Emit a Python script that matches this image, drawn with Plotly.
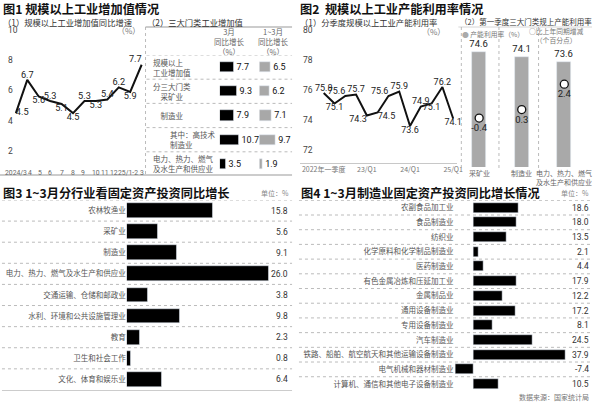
import plotly.graph_objects as go

W, H = 600, 404


def fx(p):
    return p / W


def fy(p):
    return 1 - p / H


CN = "Noto Sans CJK SC"
NUM = "Roboto, Noto Sans CJK SC"

# ---------------- data ----------------
ip_months = ["2024/3", "4", "5", "6", "7", "8", "9", "10", "11", "12", "25/1-2", "3"]
ip_growth = [4.5, 6.7, 5.6, 5.3, 5.1, 4.5, 5.3, 5.3, 5.4, 6.2, 5.9, 7.7]
ip_yticks = [2, 4, 6, 8, 10]

sec_keys = ["规模以上工业增加值", "采矿业", "制造业", "高技术制造业", "电力、热力、燃气及水生产和供应业"]
sec_labels = ["规模以上<br>工业增加值", "分三大门类<br>\u3000采矿业", "\u3000制造业",
              "其中：高技术<br>制造业", "电力、热力、燃气<br>及水生产和供应业"]
sec_march = [7.7, 9.3, 7.9, 10.7, 3.5]
sec_q1 = [6.5, 6.2, 7.1, 9.7, 1.9]

cap_quarters = ["2022年一季度", "22/Q2", "22/Q3", "22/Q4", "23/Q1", "23/Q2", "23/Q3", "23/Q4",
                "24/Q1", "24/Q2", "24/Q3", "24/Q4", "25/Q1"]
cap_rate = [75.8, 75.1, 75.6, 75.7, 74.3, 74.5, 75.6, 75.9, 73.6, 74.9, 75.1, 76.2, 74.1]
cap_ticks = ["2022年一季度", "23/Q1", "24/Q1", "25/Q1"]
cap_yticks = [72, 74, 76, 78, 80]

cap_sectors = ["采矿业", "制造业", "电力、热力、燃气<br>及水生产和供应业"]
cap_sector_rate = [74.6, 74.1, 73.6]
cap_sector_change = [-0.4, 0.3, 2.4]

inv_industries = ["农林牧渔业", "采矿业", "制造业", "电力、热力、燃气及水生产和供应业",
                  "交通运输、仓储和邮政业", "水利、环境和公共设施管理业", "教育",
                  "卫生和社会工作", "文化、体育和娱乐业"]
inv_growth = [15.8, 5.6, 9.1, 26.0, 3.8, 9.8, 2.3, 0.8, 6.4]

mfg_industries = ["农副食品加工业", "食品制造业", "纺织业", "化学原料和化学制品制造业",
                  "医药制造业", "有色金属冶炼和压延加工业", "金属制品业", "通用设备制造业",
                  "专用设备制造业", "汽车制造业", "铁路、船舶、航空航天和其他运输设备制造业",
                  "电气机械和器材制造业", "计算机、通信和其他电子设备制造业"]
mfg_growth = [18.6, 18.0, 13.5, 2.1, 4.4, 17.9, 12.2, 17.2, 8.1, 24.5, 37.9, -7.4, 10.5]

# ---------------- styles ----------------
ip_text_pos = ["middle right", "top center", "bottom center", "top center", "bottom center",
               "bottom center", "top center", "bottom center", "top center", "top center",
               "bottom center", "top left"]
ip_tick_nudge = [0, 3, 1, 0, 0, 0, -1, 0, -2, -5, -2, 0]   # px nudges of month labels
cap_text_pos = ["top center", "bottom center", "top left", "top center", "bottom left",
                "bottom right", "top left", "top center", "bottom center", "top center",
                "bottom center", "top center", "bottom center"]

fig = go.Figure()

# Panel 1 (1): line
fig.add_trace(go.Scatter(
    x=ip_months, y=ip_growth, mode="lines+text", text=[f"{v:.1f}" for v in ip_growth],
    textposition=ip_text_pos, line=dict(color="#111", width=2),
    textfont=dict(family=NUM, size=9.2, color="#222"), cliponaxis=False,
    xaxis="x", yaxis="y", hoverinfo="skip", showlegend=False))

# Panel 1 (2): table bars
fig.add_trace(go.Bar(
    x=sec_march, y=sec_keys, orientation="h", marker=dict(color="#000"), width=0.42,
    text=[f"{v:.1f}" for v in sec_march], textposition="outside", constraintext="none",
    textfont=dict(family=NUM, size=9, color="#111"), cliponaxis=False,
    xaxis="x2", yaxis="y2", hoverinfo="skip", showlegend=False))
fig.add_trace(go.Bar(
    x=sec_q1, y=sec_keys, orientation="h", marker=dict(color="#a8a8a8"), width=0.42,
    text=[f"{v:.1f}" for v in sec_q1], textposition="outside", constraintext="none",
    textfont=dict(family=NUM, size=9, color="#111"), cliponaxis=False,
    xaxis="x3", yaxis="y3", hoverinfo="skip", showlegend=False))

# Panel 2 (1): line
fig.add_trace(go.Scatter(
    x=cap_quarters, y=cap_rate, mode="lines+text", text=[f"{v:.1f}" for v in cap_rate],
    textposition=cap_text_pos, line=dict(color="#111", width=2),
    textfont=dict(family=NUM, size=9, color="#222"), cliponaxis=False,
    xaxis="x4", yaxis="y4", hoverinfo="skip", showlegend=False))

# Panel 2 (2): bars + circles
fig.add_trace(go.Bar(
    x=cap_sectors, y=cap_sector_rate, marker=dict(color="#a9a9a9"), width=0.33,
    text=[f"{v:.1f}" for v in cap_sector_rate], textposition="outside", constraintext="none",
    textfont=dict(family=NUM, size=9.5, color="#222"), cliponaxis=False,
    xaxis="x5", yaxis="y5", hoverinfo="skip", showlegend=False))
fig.add_trace(go.Scatter(
    x=cap_sectors, y=cap_sector_change, mode="markers+text",
    text=[f"{v:.1f}" for v in cap_sector_change], textposition="bottom center",
    marker=dict(symbol="circle", size=8, color="white", line=dict(color="#111", width=1.3)),
    textfont=dict(family=NUM, size=9.5, color="#222"), cliponaxis=False,
    xaxis="x5", yaxis="y6", hoverinfo="skip", showlegend=False))

# Panel 3
fig.add_trace(go.Bar(
    x=inv_growth, y=inv_industries, orientation="h", marker=dict(color="#000"), width=0.7,
    xaxis="x7", yaxis="y7", hoverinfo="skip", showlegend=False))

# Panel 4
fig.add_trace(go.Bar(
    x=mfg_growth, y=mfg_industries, orientation="h", marker=dict(color="#000"), width=0.68,
    xaxis="x8", yaxis="y8", hoverinfo="skip", showlegend=False))

hidden = dict(visible=False, showgrid=False, zeroline=False, fixedrange=True)

layout = dict(
    width=W, height=H, autosize=False,
    margin=dict(l=0, r=0, t=0, b=0),
    paper_bgcolor="white", plot_bgcolor="rgba(0,0,0,0)",
    font=dict(family=CN, color="#222"),
    bargap=0,
    # panel 1 line
    xaxis=dict(domain=[fx(5), fx(147)], type="category", categoryorder="array",
               categoryarray=ip_months, range=[-0.952, 11.34], showticklabels=False,
               ticks="", showgrid=False, zeroline=False, showline=False, anchor="y"),
    yaxis=dict(domain=[fy(166), fy(20)], range=[1.0, 10.66], tickvals=ip_yticks,
               ticklabelposition="inside", ticks="", showgrid=False, zeroline=False,
               showline=False, tickfont=dict(family=NUM, size=8.5, color="#444"), anchor="x"),
    # table
    xaxis2=dict(domain=[fx(222), fx(245)], range=[0, 12.8], anchor="y2", **hidden),
    yaxis2=dict(domain=[fy(176), fy(55)], type="category", categoryorder="array",
                categoryarray=sec_keys, range=[4.5, -0.5], anchor="x2", **hidden),
    xaxis3=dict(domain=[fx(262), fx(290)], range=[0, 17], anchor="y3", **hidden),
    yaxis3=dict(domain=[fy(176), fy(55)], type="category", categoryorder="array",
                categoryarray=sec_keys, range=[4.5, -0.5], anchor="x3", **hidden),
    # panel 2 line
    xaxis4=dict(domain=[fx(303), fx(462)], type="category", categoryorder="array",
                categoryarray=cap_quarters, range=[-2.2, 12.39], tickmode="array",
                tickvals=cap_ticks, ticks="", showgrid=False, zeroline=False,
                showline=True, linecolor="#c8c8c8", linewidth=1, tickangle=0,
                tickfont=dict(family=CN, size=7, color="#777"), anchor="y4"),
    yaxis4=dict(domain=[fy(163), fy(20)], range=[71.13, 80.67], tickvals=cap_yticks,
                ticklabelposition="inside", ticks="", showgrid=False, zeroline=False,
                showline=False, tickfont=dict(family=NUM, size=8.5, color="#444"), anchor="x4"),
    # panel 2 bars
    xaxis5=dict(domain=[fx(462.5), fx(591.5)], type="category", categoryorder="array",
                categoryarray=cap_sectors, range=[-0.5, 2.5], showticklabels=False,
                ticks="", showgrid=False, zeroline=False, showline=False, anchor="y5"),
    yaxis5=dict(domain=[fy(167), fy(30)], range=[63.1, 76.8], anchor="x5", **hidden),
    yaxis6=dict(overlaying="y5", range=[-4.45, 6.88], anchor="x5", **hidden),
    # panel 3
    xaxis7=dict(domain=[fx(128), fx(275)], range=[0, 26.7], anchor="y7", **hidden),
    yaxis7=dict(domain=[fy(391), fy(200)], type="category", categoryorder="array",
                categoryarray=inv_industries, range=[8.55, -0.5], ticks="", showgrid=False,
                zeroline=False, showline=False, fixedrange=True,
                tickfont=dict(family=CN, size=7.5, color="#555"), anchor="x7"),
    # panel 4
    xaxis8=dict(domain=[fx(459), fx(575)], range=[-7.76, 39.6], anchor="y8", **hidden),
    yaxis8=dict(domain=[fy(391), fy(200)], type="category", categoryorder="array",
                categoryarray=mfg_industries, range=[12.47, -0.52], ticks="", showgrid=False,
                zeroline=False, showline=False, fixedrange=True,
                tickfont=dict(family=CN, size=7.5, color="#555"), anchor="x8"),
)
fig.update_layout(**layout)

ann = []


def text(x, y, s, size, color="#222", xanchor="left", bold=False, family=CN, **kw):
    ann.append(dict(x=fx(x), y=fy(y), xref="paper", yref="paper", text=s, showarrow=False,
                    xanchor=xanchor, yanchor="middle",
                    font=dict(family=family, size=size, color=color,
                              weight="bold" if bold else "normal"), **kw))


# titles
text(1, 9, "图1 规模以上工业增加值情况", 12.2, "#111", bold=True)
text(1, 22, "（1）规模以上工业增加值同比增速", 8.3, "#333")
text(146, 22, "（2）三大门类工业增加值", 8.3, "#333")
text(301, 9, "图2  规模以上工业产能利用率情况", 12.2, "#111", bold=True)
text(301, 22, "（1）分季度规模以上工业产能利用率", 8.3, "#333")
text(463, 21, "（2）第一季度三大门类规上产能利用率", 7.5, "#333")
text(1, 193, "图3 1~3月分行业看固定资产投资同比增长", 12.2, "#111", bold=True)
text(302, 193, "图4 1~3月制造业固定资产投资同比增长情况", 12.2, "#111", bold=True)
text(294, 193, "单位：%", 7, "#888", xanchor="right")
text(597, 193, "单位：%", 7, "#888", xanchor="right")
text(597, 397, "数据来源：国家统计局", 7, "#777", xanchor="right")
text(130, 31, "（%）", 8, "#777", xanchor="center")
text(438, 32, "（%）", 8, "#777", xanchor="center")

# table headers
text(232, 42, "3月<br>同比增长<br>（%）", 7.5, "#666", xanchor="center")
text(276, 42, "1~3月<br>同比增长<br>（%）", 7.5, "#666", xanchor="center")

# legend panel 2(2)
text(465, 34, "<span style='color:#aaaaaa'>●</span> 产能利用率（%）", 6.8, "#777")
text(562, 36, "○比上年同期增减<br>（个百分点）", 6.8, "#777", xanchor="center")

# panel 1 month labels, positioned through the category axis (by category index)
for i, (m, dx) in enumerate(zip(ip_months, ip_tick_nudge)):
    ann.append(dict(x=i, y=fy(167), xref="x", yref="paper", text=m, showarrow=False,
                    xanchor="center", yanchor="top", xshift=dx,
                    font=dict(family=NUM, size=6.8, color="#666")))

# panel 2(2) category labels, positioned through the category axis
for i, c in enumerate(cap_sectors):
    ann.append(dict(x=i, y=fy(166), xref="x5", yref="paper", text=c, showarrow=False,
                    xanchor="center", yanchor="top", align="center", textangle=0,
                    font=dict(family=CN, size=7, color="#666")))

# table row labels
row_indent = [0, 0, 0, 17, 0]
for key, lab, ind in zip(sec_keys, sec_labels, row_indent):
    ann.append(dict(x=fx(153 + ind), y=key, xref="paper", yref="y2", text=lab, showarrow=False,
                    xanchor="left", yanchor="middle", align="left",
                    font=dict(family=CN, size=7.5, color="#555")))

# value labels panel 3 & 4
for k, v in zip(inv_industries, inv_growth):
    ann.append(dict(x=fx(293), y=k, xref="paper", yref="y7", text=f"{v:.1f}", showarrow=False,
                    xanchor="right", yanchor="middle",
                    font=dict(family=NUM, size=8.5, color="#333")))
for k, v in zip(mfg_industries, mfg_growth):
    ann.append(dict(x=fx(597), y=k, xref="paper", yref="y8", text=f"{v:.1f}", showarrow=False,
                    xanchor="right", yanchor="middle",
                    font=dict(family=NUM, size=8.5, color="#333")))

fig.update_layout(annotations=ann)

shapes = []
dot = dict(color="#aaaaaa", width=0.8, dash="dot")
solid = dict(color="#999999", width=1)


def hline(x0, x1, y, line):
    shapes.append(dict(type="line", xref="paper", yref="paper", x0=fx(x0), x1=fx(x1),
                       y0=fy(y), y1=fy(y), line=line))


def vline(x, y0, y1, line):
    shapes.append(dict(type="line", xref="paper", yref="paper", x0=fx(x), x1=fx(x),
                       y0=fy(y0), y1=fy(y1), line=line))


hline(147, 295, 27, solid)
hline(0, 295, 175, solid)
vline(147, 27, 175, dot)
hline(463, 598, 27, dict(color="#cccccc", width=0.8))
for xv in [466, 504, 544]:
    vline(xv, 27, 168, dot)

# table separators (axis coordinates)
for i in range(len(sec_keys)):
    shapes.append(dict(type="line", xref="paper", yref="y2", x0=fx(148), x1=fx(295),
                       y0=i - 0.5, y1=i - 0.5, line=dot))

# panel 3 separators
for i in range(len(inv_industries)):
    shapes.append(dict(type="line", xref="paper", yref="y7", x0=fx(2), x1=fx(295),
                       y0=i - 0.5, y1=i - 0.5, line=dot))
shapes.append(dict(type="line", xref="paper", yref="y7", x0=fx(2), x1=fx(295),
                   y0=len(inv_industries) - 0.45, y1=len(inv_industries) - 0.45, line=solid))

# panel 4 separators
for i in range(len(mfg_industries)):
    shapes.append(dict(type="line", xref="paper", yref="y8", x0=fx(302), x1=fx(598),
                       y0=i - 0.5, y1=i - 0.5, line=dot))
shapes.append(dict(type="line", xref="paper", yref="y8", x0=fx(302), x1=fx(598),
                   y0=len(mfg_industries) - 0.45, y1=len(mfg_industries) - 0.45, line=solid))

fig.update_layout(shapes=shapes)

fig.write_html("out.html", config={"displayModeBar": False},
               post_script="document.body.style.margin='0';document.body.style.overflow='hidden';")
